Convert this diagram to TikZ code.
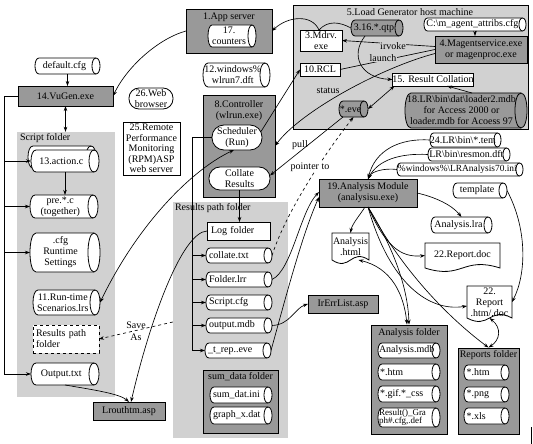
\documentclass[tikz,border=0pt]{standalone}
\usepackage{fontspec}
\setmainfont{Liberation Serif}
\usetikzlibrary{arrows.meta,calc,backgrounds}
\definecolor{dgray}{gray}{0.6}
\definecolor{lgray}{gray}{0.82}
\newcommand\docoutline[1]{%
  \begin{scope}[on background layer]
  \draw[line width=0.8pt, fill=white] (#1.north west) -- (#1.north east) -- (#1.south east)
    .. controls ($(#1.south)+(0,-12)$) and ($(#1.south)+(0,12)$) .. (#1.south west) -- cycle;
  \end{scope}}
% name, x, y, w, h, rx, fill, text-node options, text
\newcommand\cylnode[9]{%
  \pgfmathsetmacro\cxl{#2-#4/2+#6}%
  \pgfmathsetmacro\cxr{#2+#4/2-#6}%
  \pgfmathsetmacro\cyt{#3-#5/2}%
  \pgfmathsetmacro\cyb{#3+#5/2}%
  \pgfmathsetmacro\ckx{1.3333*#6}%
  \pgfmathsetmacro\ctx{#2-0.75*#6}%
  \filldraw[fill=#7, line width=0.8pt] (\cxl,\cyt) -- (\cxr,\cyt) .. controls (\cxr+\ckx,\cyt) and (\cxr+\ckx,\cyb) .. (\cxr,\cyb) -- (\cxl,\cyb) .. controls (\cxl-\ckx,\cyb) and (\cxl-\ckx,\cyt) .. (\cxl,\cyt) -- cycle;
  \draw[line width=0.8pt] (\cxr,\cyt) .. controls (\cxr-\ckx,\cyt) and (\cxr-\ckx,\cyb) .. (\cxr,\cyb);
  \node[txt, minimum width=#4, minimum height=#5] (#1) at (#2,#3) {};
  \node[txt, #8] (#1t) at (\ctx,#3) {#9};}
\tikzset{
  txt/.style={font=\fontsize{10}{11}\selectfont, inner sep=0pt, outer sep=0pt, align=center},
  sz/.style n args={2}{minimum width=#1, minimum height=#2},
  dbox/.style={txt, draw, fill=dgray, line width=0.8pt},
  wbox/.style={txt, draw, fill=white, line width=0.8pt},
  lt/.style={align=left, text width=#1},
  stad/.style={wbox, rounded corners=10pt},
  lpanel/.style={fill=lgray, inner sep=0pt},
  dpanel/.style={draw, fill=dgray, line width=0.9pt, inner sep=0pt},
  doc/.style={txt},
  lbl/.style={txt},
  conn/.style={-{Stealth[length=5pt,width=3.5pt]}, line width=0.65pt},
  dconn/.style={{Stealth[length=5pt,width=3.5pt]}-{Stealth[length=5pt,width=3.5pt]}, line width=0.65pt},
  pline/.style={line width=0.65pt},
}
\begin{document}
\begin{tikzpicture}[x=1pt,y=-1pt]
\useasboundingbox (0,0) rectangle (533,444);
% panels
\node[lpanel, draw=black, line width=0.9pt, sz={235}{124}] (loadgen) at (410.5,67) {};
\node[lpanel, sz={98}{265}] (scriptp) at (66,264.5) {};
\node[lpanel, sz={115}{236}] (resp) at (230.5,320) {};
% app server
\node[dbox, sz={86}{44}] (app) at (229,31) {};
\node[txt] (apptitle) at (229,17) {1.App server};
\cylnode{cnt}{232}{36}{48}{22}{4}{white}{}{17.\\counters}
% load generator
\node[txt] (lgtitle) at (410,12) {5.Load Generator host machine};
\node[wbox, sz={42}{21}] (mdrv) at (321,40.5) {3.Mdrv.\\exe};
\cylnode{qtp}{377}{28}{52}{16}{4}{dgray}{}{3.16.*.qtp}
\cylnode{cfg}{475}{24.5}{102}{13}{3.5}{white}{}{C:\textbackslash m\_agent\_attribs.cfg}
\node[dbox, sz={92}{27}] (mag) at (481,49.5) {4.Magentservice.exe\\or magenproc.exe};
\node[wbox, sz={40}{13}] (rcl) at (320,69.5) {10.RCL};
\node[wbox, sz={81}{13}] (res15) at (433,79.5) {15. Result Collation};
\cylnode{eve}{353.5}{109}{29}{16}{4}{dgray}{}{*.eve}
\cylnode{l18}{466}{110.5}{122}{35}{6}{dgray}{}{18.LR\textbackslash bin\textbackslash dat\textbackslash loader2.mdb\\for Access 2000 or\\loader.mdb for Acoess 97}
% left
\cylnode{dcfg}{67.5}{66}{65}{16}{4}{white}{}{default.cfg}
\node[dbox, sz={95}{20}] (vugen) at (65.5,96) {14.VuGen.exe};
\node[txt, anchor=west] (sftitle) at (20,138) {Script folder};
\cylnode{actback}{62}{157}{68}{22}{5}{white}{}{}
\cylnode{action}{65}{161}{68}{22}{5}{white}{}{13.action.c}
\cylnode{pre}{64}{206.5}{68}{23}{5}{white}{}{pre.*.c\\(together)}
\cylnode{rts}{65}{252.5}{70}{39}{6}{white}{}{.cfg\\Runtime\\Settings}
\cylnode{eleven}{66.5}{302.5}{67}{25}{5}{white}{}{11.Run-time\\Scenarios.lrs}
\node[wbox, dashed, line width=1pt, sz={66}{28}, lt=60pt] (rpd) at (66,339) {Results path\\folder};
\cylnode{output}{65}{374}{68}{22}{5}{white}{}{Output.txt}
\node[dbox, sz={72}{18}] (lrout) at (129,411) {Lrouthtm.asp};
\node[stad, sz={44}{21}] (web) at (151,98.5) {26.Web\\browser};
\node[wbox, sz={57}{53}, font=\fontsize{10}{10.6}\selectfont] (rpm) at (151.5,148.5) {25.Remote\\Performance\\Monitoring\\(RPM)ASP\\web server};
% controller
\cylnode{wl}{236.5}{75}{67}{24}{5}{white}{}{12.windows\%\\wlrun7.dft}
\node[dbox, sz={72}{102}] (ctrl) at (239,146) {};
\node[txt] (ctitle) at (239,111) {8.Controller\\(wlrun.exe)};
\node[stad, rounded corners=12pt, sz={50}{25}] (sched) at (237,137.5) {Scheduler\\(Run)};
\node[stad, rounded corners=11pt, sz={61}{23}] (coll) at (239.5,178.5) {Collate\\Results};
% results path folder
\node[txt, anchor=west] (rptitle) at (175,208) {Results path folder};
\node[wbox, sz={63}{18}, lt=55pt] (logf) at (238.5,231) {Log folder};
\cylnode{ctxt}{239}{255.5}{66}{15}{4}{white}{lt=54pt}{collate.txt}
\cylnode{flrr}{239}{279.5}{66}{15}{4}{white}{lt=54pt}{Folder.lrr}
\cylnode{scfg}{239}{302.5}{66}{15}{4}{white}{lt=54pt}{Script.cfg}
\cylnode{omdb}{239}{325.5}{66}{15}{4}{white}{lt=54pt}{output.mdb}
\cylnode{trep}{238}{350.5}{66}{15}{4}{white}{lt=54pt}{\_t\_rep..eve}
\node[dpanel, sz={75}{63}] (sumd) at (240.5,401.5) {};
\node[txt] (sdtitle) at (240.5,377) {sum\_data folder};
\cylnode{sdini}{241}{395}{62}{16}{4}{white}{lt=50pt}{sum\_dat.ini}
\cylnode{gxd}{241}{415.5}{62}{17}{4}{white}{lt=50pt}{graph\_x.dat}
\node[dbox, sz={70}{18}] (irerr) at (343,304) {IrErrList.asp};
% analysis
\node[dbox, sz={98}{28}] (a19) at (368,193) {19.Analysis Module\\(analysisu.exe)};
\cylnode{t24}{465.5}{140}{71}{14}{3.5}{white}{}{24.LR\textbackslash bin\textbackslash *.tem}
\cylnode{resm}{469}{154.5}{82}{13}{3.5}{white}{}{LR\textbackslash bin\textbackslash resmon.dft}
\cylnode{lra70}{460}{169.5}{126}{13}{3.5}{white}{font=\fontsize{9.4}{10}\selectfont}{\%windows\%\textbackslash LRAnalysis70.ini}
\cylnode{tmpl}{480}{190.5}{54}{15}{4}{white}{}{template}
\cylnode{alra}{461.5}{225}{61}{16}{4}{white}{}{Analysis.lra}
\node[doc, sz={75}{25}] (rdoc) at (462.5,255.5) {22.Report.doc};
\node[doc, sz={37}{27}] (ahtml) at (350.5,246.5) {Analysis\\.html};
\node[doc, sz={45}{32}] (rhtm) at (489.5,302) {22.\\Report\\.htm/.doc};
\docoutline{rdoc}
\docoutline{ahtml}
\docoutline{rhtm}
\node[dpanel, sz={76}{109}] (afold) at (409,379.5) {};
\node[txt] (aftitle) at (409,333) {Analysis folder};
\cylnode{amdb}{409}{350.5}{62}{15}{4}{white}{lt=54pt}{Analysis.mdb}
\cylnode{ahtm}{409}{372}{62}{16}{4}{white}{lt=52pt}{*.htm}
\cylnode{agif}{409}{394}{62}{16}{4}{white}{lt=52pt}{*.gif.*\_css}
\cylnode{agraph}{409}{417.5}{62}{19}{4}{white}{lt=54pt, font=\fontsize{9}{8.5}\selectfont}{Result()\_Gra\\ph\#.cfg,.def}
\node[dpanel, sz={61}{86}] (rfold) at (488.5,391) {};
\node[txt] (rftitle) at (488.5,355) {Reports folder};
\cylnode{rhtm2}{486.5}{372.5}{45}{15}{4}{white}{lt=34pt}{*.htm}
\cylnode{rpng}{486.5}{394.5}{45}{15}{4}{white}{lt=34pt}{*.png}
\cylnode{rxls}{486.5}{416}{45}{16}{4}{white}{lt=34pt}{*.xls}
% connectors
\draw[conn] (app.west) .. controls (160,38) and (128,65) .. (vugen.east);
\draw[conn] (dcfg.south) -- (dcfg.south |- vugen.north);
\draw[dconn] (vugen.south) -- (vugen.south |- scriptp.north);
\draw[pline] (vugen.west) -- ++(-14,0) coordinate (lb) -- (lb |- output.west);
\foreach \n in {action,pre,rts,output} \draw[conn] (lb |- \n.west) -- (\n.west);
\draw[conn] (action.south) -- (action.south |- pre.north);
\draw[conn] (output.south) .. controls (95,390) and (120,394) .. (lrout.north);
\draw[conn] (logf.west) .. controls (182,232) and (150,320) .. ($(lrout.north)+(2,0)$);
\draw[dconn] (eleven.east) .. controls (140,220) and (195,168) .. ($(sched.south)+(-3,0)$);
\draw[conn] ($(sched.east)+(-1,-6)$) -- (rcl.west);
\draw[conn] ($(mag.west)+(0,4)$) .. controls (380,68) and (300,112) .. (ctrl.east);
\draw[conn] ($(mag.west)+(0,-3)$) -- (mdrv.east);
\draw[pline] (rcl.east) -- (mag.west);
\draw[conn] ($(qtp.south)+(-12,0)$) .. controls (350,55) and (360,78) .. (res15.west);
\draw[conn] ($(mdrv.north)+(-2,0)$) .. controls (312,14) and (288,16) .. (app.east);
\draw[pline] ($(mdrv.north)+(-2,0)$) .. controls (328,20) and (340,22) .. (qtp.west);
\draw[conn] (cfg.south) -- (cfg.south |- mag.north);
\draw[conn] ($(l18.north)+(6,0)$) -- ($(res15.south)+(14,0)$);
\draw[dconn] ($(res15.south west)+(2,0)$) -- (eve.east);
\draw[conn] ($(eve.south west)+(4,0)$) -- ($(coll.east)+(0,-3)$);
\draw[conn, dashed] (ctxt.east) .. controls (285,215) and (320,160) .. (eve.south);
\draw[conn, dashed] ($(resp.west)+(0,2)$) -- (rpd.east);
\draw[pline] (sched.west) -- ++(-20,0) coordinate (rb) -- (rb |- trep.west);
\foreach \n in {ctxt,flrr,scfg,omdb,trep} \draw[conn] (rb |- \n.west) -- (\n.west);
\draw[conn] (coll.south) -- (coll.south |- logf.north);
\draw[conn] (omdb.east) .. controls (290,325) and (295,308) .. (irerr.west);
\draw[conn] (flrr.east) .. controls (292,270) and (300,212) .. ($(a19.west)+(0,-1)$);
\draw[conn] (trep.east) .. controls (285,300) and (302,235) .. ($(a19.west)+(0,4)$);
\draw[conn] (t24.west) .. controls (400,138) and (375,150) .. (a19.north);
\draw[conn] (resm.west) .. controls (400,153) and (378,160) .. (a19.north);
\draw[conn] (lra70.west) .. controls (385,168) and (372,171) .. (a19.north);
\draw[conn] (a19.east) .. controls (435,197) and (452,205) .. (alra.north);
\draw[conn] ($(a19.south)+(-3,0)$) .. controls (360,215) and (352,224) .. (ahtml.north);
\draw[conn] (a19.south) .. controls (385,245) and (400,258) .. (rdoc.west);
\draw[conn] (a19.south) .. controls (390,285) and (430,312) .. ($(rhtm.west)+(0,4)$);
\draw[conn] (a19.south) .. controls (395,250) and (408,290) .. (afold.north);
\draw[dconn] ($(ahtml.south)+(8,0)$) .. controls (392,268) and (404,295) .. ($(afold.north)+(-2,0)$);
\draw[conn] (a19.south) .. controls (410,285) and (465,330) .. (rfold.north);
\draw[dconn] (rhtm.south) .. controls (502,328) and (500,340) .. (rfold.north);
\draw[conn] (tmpl.east) .. controls (528,230) and (526,275) .. (rhtm.east);
\draw[pline] (531,427) -- (531,444);
% labels
\node[lbl, fill=lgray, inner sep=0.5pt] (lirv) at (393,46) {irvoke};
\node[lbl, fill=lgray, inner sep=0.5pt] (llau) at (383,58) {launch};
\node[lbl] (lsta) at (328,91) {status};
\node[lbl] (lpul) at (300,145) {pull};
\node[lbl, fill=white, inner sep=0.5pt] (lptr) at (310,167) {pointer to};
\node[lbl, font=\fontsize{10}{12}\selectfont] (lsave) at (136,331) {Save\\As};
\end{tikzpicture}
\end{document}
